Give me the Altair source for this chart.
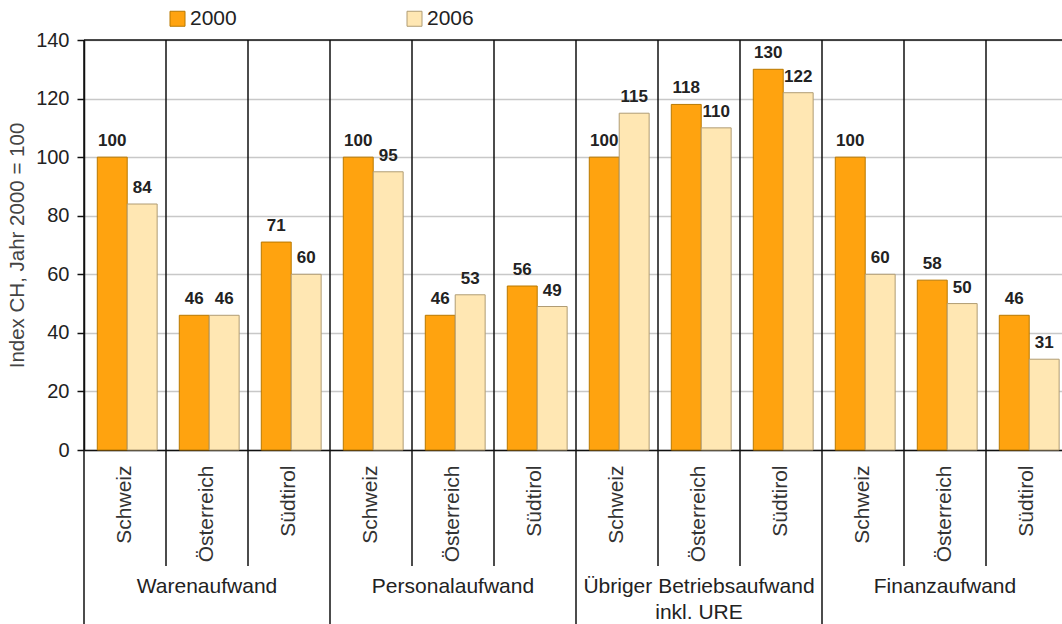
import altair as alt
import pandas as pd

groups = ["Warenaufwand", "Personalaufwand", "Übriger Betriebsaufwand\ninkl. URE", "Finanzaufwand"]
countries = ["Schweiz", "Österreich", "Südtirol"]
years = ["2000", "2006"]
v2000 = [100, 46, 71, 100, 46, 56, 100, 118, 130, 100, 58, 46]
v2006 = [84, 46, 60, 95, 53, 49, 115, 110, 122, 60, 50, 31]
y_ticks = [0, 20, 40, 60, 80, 100, 120, 140]
y_title = "Index CH, Jahr 2000 = 100"

fills = ["#FFA30F", "#FFE7B3"]
strokes = ["#B87800", "#B09C74"]

keys = [f"{gi}|{c}" for gi in range(len(groups)) for c in countries]

rows = []
for i, k in enumerate(keys):
    rows.append({"key": k, "year": years[0], "value": v2000[i]})
    rows.append({"key": k, "year": years[1], "value": v2006[i]})
df = pd.DataFrame(rows)

rules_df = pd.DataFrame({"key": keys, "start": [k.endswith("|" + countries[0]) for k in keys]})
grp_df = pd.DataFrame({"key": [f"{gi}|{countries[1]}" for gi in range(len(groups))], "label": groups})
top_df = pd.DataFrame({"v": [y_ticks[-1]]})

xscale = alt.Scale(domain=keys, paddingInner=0, paddingOuter=0, range=[0, 984])
yscale = alt.Scale(domain=[0, 140], nice=False)
line_col = "#111111"

xaxis = alt.Axis(title=None, labelExpr="split(datum.label, '|')[1]",
                 labelAngle=270, labelAlign="right", labelBaseline="middle",
                 labelFontSize=21, labelPadding=15, ticks=False, labelOverlap=False,
                 domainColor=line_col, domainWidth=1.5, labelColor="#333333",
                 grid=False)
yaxis = alt.Axis(values=y_ticks, title=y_title, labelFontSize=20, labelColor="#222222",
                 tickColor=line_col, tickSize=7, tickWidth=1.5,
                 domainColor=line_col, domainWidth=1.5,
                 gridColor="#c8c8c8", gridWidth=1.5, labelPadding=8,
                 titleFontSize=20.5, titleFontWeight="normal", titleColor="#444444",
                 titlePadding=8)

legend = alt.Legend(orient="none", legendX=83, legendY=-32, direction="horizontal",
                    title=None, labelFontSize=21, labelColor="#222222",
                    symbolType="square", symbolSize=225, symbolStrokeWidth=1,
                    columnPadding=167, labelOffset=2)

xoff_scale = alt.Scale(domain=years, paddingInner=0, paddingOuter=0.37, align=0.6)

bars = alt.Chart(df).mark_bar(strokeWidth=1).encode(
    x=alt.X("key:N", scale=xscale, axis=xaxis),
    xOffset=alt.XOffset("year:N", scale=xoff_scale),
    y=alt.Y("value:Q", scale=yscale, axis=yaxis),
    fill=alt.Fill("year:N", scale=alt.Scale(domain=years, range=fills), legend=legend),
    stroke=alt.Stroke("year:N", scale=alt.Scale(domain=years, range=strokes), legend=legend),
)

labels = alt.Chart(df).mark_text(fontWeight="bold", fontSize=17, dy=-11, baseline="alphabetic",
                                 color="#222222").encode(
    x=alt.X("key:N", scale=xscale, axis=xaxis),
    xOffset=alt.XOffset("year:N", scale=xoff_scale),
    y=alt.Y("value:Q", scale=yscale, axis=yaxis),
    text=alt.Text("value:Q"),
)

rules_in = alt.Chart(rules_df).mark_rule(color=line_col, strokeWidth=1.5).encode(
    x=alt.X("key:N", scale=xscale, bandPosition=0, axis=xaxis),
    y=alt.value(0),
    y2=alt.value(410),
)

rules_inner = alt.Chart(rules_df).transform_filter("!datum.start").mark_rule(
    color=line_col, strokeWidth=1.5).encode(
    x=alt.X("key:N", scale=xscale, bandPosition=0, axis=xaxis),
    y=alt.value(410),
    y2=alt.value(526),
)

rules_grp = alt.Chart(rules_df).transform_filter("datum.start").mark_rule(
    color=line_col, strokeWidth=1.5).encode(
    x=alt.X("key:N", scale=xscale, bandPosition=0, axis=xaxis),
    y=alt.value(410),
    y2=alt.value(600),
)

top_line = alt.Chart(top_df).mark_rule(color=line_col, strokeWidth=1.5).encode(
    y=alt.Y("v:Q", scale=yscale, axis=yaxis),
    x=alt.value(0),
    x2=alt.value(984),
)

grp_text = alt.Chart(grp_df).mark_text(fontSize=21, lineBreak="\n", baseline="alphabetic",
                                       lineHeight=26, color="#222222").encode(
    x=alt.X("key:N", scale=xscale, axis=xaxis),
    y=alt.value(553),
    text=alt.Text("label:N"),
)

chart = alt.layer(bars, labels, rules_in, rules_inner, rules_grp, top_line, grp_text).properties(
    width=978, height=410,
    autosize=alt.AutoSizeParams(type="none"),
    padding={"left": 84, "top": 40, "right": 0, "bottom": 174},
).configure(font="Liberation Sans").configure_view(strokeWidth=0)

chart.save("out.html", embed_options={"renderer": "svg", "actions": False})
